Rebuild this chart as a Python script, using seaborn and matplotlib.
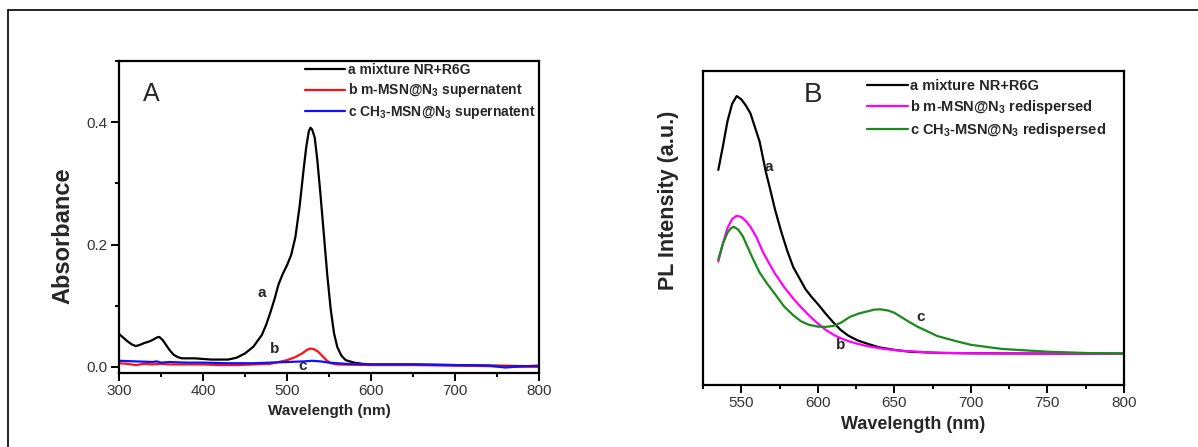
import numpy as np
import pandas as pd
import matplotlib
matplotlib.use("Agg")
import matplotlib.pyplot as plt
from matplotlib.lines import Line2D
from matplotlib.ticker import MultipleLocator, FormatStrFormatter
import seaborn as sns

# --- panel A: UV-vis absorbance ---
abs_a_wl = [300, 305, 310, 315, 320, 325, 330, 335, 340, 345, 348, 352, 356, 360, 365, 370, 375, 380,
            390, 400, 410, 420, 430, 440, 450, 460, 470, 475, 480, 485, 490, 495, 500, 505, 510, 515,
            520, 523, 526, 528, 530, 533, 536, 540, 544, 548, 552, 556, 560, 565, 570, 580, 590, 600,
            650, 700, 750, 800]
abs_a_val = [0.054, 0.048, 0.042, 0.037, 0.034, 0.036, 0.039, 0.041, 0.044, 0.048, 0.049, 0.044, 0.036,
             0.028, 0.020, 0.016, 0.014, 0.014, 0.014, 0.013, 0.012, 0.012, 0.012, 0.015, 0.022, 0.033,
             0.052, 0.068, 0.088, 0.110, 0.135, 0.152, 0.166, 0.183, 0.212, 0.262, 0.325, 0.360, 0.385,
             0.391, 0.388, 0.375, 0.340, 0.280, 0.215, 0.150, 0.095, 0.055, 0.032, 0.018, 0.011, 0.007,
             0.005, 0.004, 0.004, 0.003, 0.002, 0.001]

abs_b_wl = [300, 310, 320, 330, 340, 350, 360, 380, 400, 420, 440, 460, 480, 490, 500, 510, 518, 524,
            528, 532, 537, 542, 547, 552, 560, 600, 650, 700, 750, 800]
abs_b_val = [0.006, 0.005, 0.003, 0.005, 0.004, 0.005, 0.004, 0.004, 0.004, 0.003, 0.003, 0.004, 0.005,
             0.008, 0.011, 0.016, 0.022, 0.028, 0.030, 0.029, 0.025, 0.018, 0.011, 0.006, 0.004, 0.003,
             0.003, 0.002, 0.001, 0.000]

abs_c_wl = [300, 320, 340, 345, 350, 360, 380, 400, 430, 460, 480, 500, 520, 530, 540, 550, 570, 600,
            650, 700, 740, 760, 780, 800]
abs_c_val = [0.010, 0.009, 0.008, 0.009, 0.007, 0.008, 0.007, 0.007, 0.006, 0.006, 0.007, 0.008, 0.009,
             0.010, 0.009, 0.007, 0.005, 0.004, 0.004, 0.003, 0.002, -0.001, 0.001, 0.002]

abs_labels = ["a mixture NR+R6G",
              r"b m-MSN@N$_3$ supernatent",
              r"c CH$_3$-MSN@N$_3$ supernatent"]

# --- panel B: PL intensity (arbitrary units) ---
pl_a_wl = [535, 538, 541, 544, 547, 550, 553, 556, 559, 562, 566, 569, 572, 576, 580, 584, 588, 592,
           596, 600, 605, 610, 615, 620, 626, 632, 640, 650, 660, 680, 700, 750, 800]
pl_a_val = [0.685, 0.760, 0.840, 0.895, 0.920, 0.910, 0.890, 0.865, 0.820, 0.775, 0.680, 0.621, 0.560,
            0.490, 0.428, 0.375, 0.340, 0.305, 0.280, 0.258, 0.228, 0.200, 0.175, 0.157, 0.142, 0.132,
            0.120, 0.112, 0.106, 0.102, 0.101, 0.100, 0.100]

pl_b_wl = [535, 538, 541, 544, 547, 550, 553, 556, 560, 564, 567, 572, 578, 584, 589, 595, 600, 605,
           611, 616, 621, 627, 632, 643, 654, 676, 700, 750, 800]
pl_b_val = [0.393, 0.450, 0.500, 0.528, 0.539, 0.535, 0.522, 0.504, 0.470, 0.425, 0.398, 0.355, 0.312,
            0.275, 0.248, 0.218, 0.196, 0.176, 0.158, 0.147, 0.138, 0.130, 0.124, 0.115, 0.109, 0.103,
            0.101, 0.100, 0.099]

pl_c_wl = [535, 538, 541, 543, 545, 548, 551, 555, 558, 562, 567, 572, 578, 584, 589, 594, 600, 605,
           610, 615, 621, 627, 632, 637, 641, 646, 650, 654, 660, 665, 672, 678, 690, 700, 720, 750,
           775, 800]
pl_c_val = [0.400, 0.450, 0.485, 0.498, 0.504, 0.495, 0.474, 0.430, 0.398, 0.358, 0.322, 0.290, 0.250,
            0.222, 0.203, 0.192, 0.186, 0.185, 0.188, 0.198, 0.217, 0.228, 0.234, 0.240, 0.241, 0.237,
            0.230, 0.218, 0.200, 0.186, 0.170, 0.156, 0.140, 0.128, 0.115, 0.106, 0.102, 0.100]

pl_labels = ["a mixture NR+R6G",
             r"b m-MSN@N$_3$ redispersed",
             r"c CH$_3$-MSN@N$_3$ redispersed"]

sns.set_style("ticks")
plt.rcParams["font.family"] = ["Liberation Sans", "DejaVu Sans"]
plt.rcParams["mathtext.fontset"] = "custom"
plt.rcParams["mathtext.rm"] = "Liberation Sans:bold"
plt.rcParams["mathtext.default"] = "regular"

fig = plt.figure(figsize=(11.98, 4.47), dpi=100)
axA = fig.add_axes([0.0993, 0.1655, 0.3506, 0.698])
axB = fig.add_axes([0.5868, 0.1387, 0.3514, 0.7025])

# frame line of the cropped figure (left + top)
fig.add_artist(Line2D([8 / 1198, 8 / 1198], [0, 1 - 10 / 447], color="black", lw=1.2))
fig.add_artist(Line2D([8 / 1198, 1], [1 - 10 / 447, 1 - 10 / 447], color="black", lw=1.2))

bold = dict(fontweight="bold")

# panel A
for wl, val, lab, col in zip([abs_a_wl, abs_b_wl, abs_c_wl], [abs_a_val, abs_b_val, abs_c_val],
                             abs_labels, ["black", "#ff1010", "#1010ff"]):
    sns.lineplot(x=wl, y=val, ax=axA, color=col, lw=1.6, label=lab)

axA.set_xlim(300, 800)
axA.set_ylim(-0.01, 0.5)
axA.xaxis.set_major_locator(MultipleLocator(100))
axA.xaxis.set_minor_locator(MultipleLocator(50))
axA.yaxis.set_major_locator(MultipleLocator(0.2))
axA.yaxis.set_minor_locator(MultipleLocator(0.1))
axA.yaxis.set_major_formatter(FormatStrFormatter("%.1f"))
axA.set_xlabel("Wavelength (nm)", fontsize=11, fontweight="bold", labelpad=4)
axA.set_ylabel("Absorbance", fontsize=17, fontweight="bold")
axA.yaxis.set_label_coords(-0.107, 0.44)
axA.text(338, 0.446, "A", fontsize=18, ha="center", va="center")
axA.text(470, 0.120, "a", fontsize=11, ha="center", va="center", **bold)
axA.text(485.5, 0.030, "b", fontsize=11, ha="center", va="center", **bold)
axA.text(518.6, 0.001, "c", fontsize=11, ha="center", va="center", **bold)
legA = axA.legend(loc="upper left", bbox_to_anchor=(0.442, 0.995), frameon=False, fontsize=10,
                  handlelength=2.9, handletextpad=0.2, labelspacing=0.35, borderpad=0, borderaxespad=0)

# panel B
for wl, val, lab, col in zip([pl_a_wl, pl_b_wl, pl_c_wl], [pl_a_val, pl_b_val, pl_c_val],
                             pl_labels, ["black", "#ff00ff", "#1a8a1a"]):
    sns.lineplot(x=wl, y=val, ax=axB, color=col, lw=1.6, label=lab)

axB.set_xlim(525, 800)
axB.set_ylim(0, 1)
axB.xaxis.set_major_locator(MultipleLocator(50))
axB.xaxis.set_minor_locator(MultipleLocator(25))
axB.set_yticks([])
axB.set_xlabel("Wavelength (nm)", fontsize=13, fontweight="bold", labelpad=4)
axB.set_ylabel("PL Intensity (a.u.)", fontsize=15.5, fontweight="bold")
axB.yaxis.set_label_coords(-0.057, 0.589)
axB.text(597, 0.924, "B", fontsize=20, ha="center", va="center")
axB.text(568, 0.693, "a", fontsize=11, ha="center", va="center", **bold)
axB.text(614.7, 0.127, "b", fontsize=11, ha="center", va="center", **bold)
axB.text(667, 0.215, "c", fontsize=11, ha="center", va="center", **bold)
legB = axB.legend(loc="upper left", bbox_to_anchor=(0.389, 0.975), frameon=False, fontsize=10.5,
                  handlelength=2.8, handletextpad=0.2, labelspacing=0.35, borderpad=0, borderaxespad=0)

for leg in (legA, legB):
    for t in leg.get_texts():
        t.set_fontweight("bold")
    for h in leg.legend_handles:
        h.set_linewidth(1.6)

for ax in (axA, axB):
    for sp in ax.spines.values():
        sp.set_linewidth(1.6)
        sp.set_color("black")
    ax.tick_params(which="major", direction="out", length=6, width=1.4, pad=2,
                   labelsize=11, labelcolor="#333333", color="black")
    ax.tick_params(which="minor", direction="out", length=3, width=1.4, color="black")
axB.tick_params(axis="y", which="both", left=False)

fig.savefig("out.png", dpi=100)
